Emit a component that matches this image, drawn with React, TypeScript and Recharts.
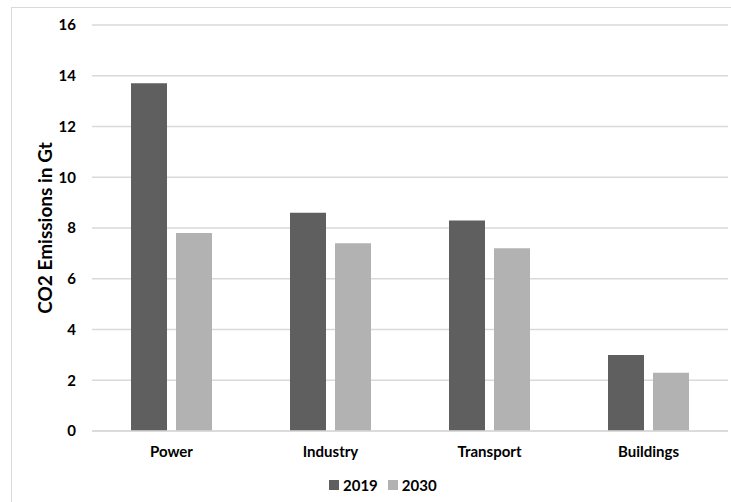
import { BarChart, Bar, XAxis, YAxis, CartesianGrid } from "recharts";

const sectors = ["Power", "Industry", "Transport", "Buildings"];
const emissions2019 = [13.7, 8.6, 8.3, 3.0];
const emissions2030 = [7.8, 7.4, 7.2, 2.3];
const yTicks = [0, 2, 4, 6, 8, 10, 12, 14, 16];

const series = [
  { key: "y2019", name: "2019", color: "#5f5f5f" },
  { key: "y2030", name: "2030", color: "#b2b2b2" },
];

const data = sectors.map((sector, i) => ({
  sector,
  y2019: emissions2019[i],
  y2030: emissions2030[i],
}));

const FONT = "Lato, 'Liberation Sans', Arial, sans-serif";

// legend drawn below the plot, outside the chart's own layout
function LegendRow() {
  return (
    <div
      style={{
        position: "absolute",
        top: 476,
        left: 329,
        display: "flex",
        alignItems: "center",
        fontFamily: FONT,
        fontWeight: 700,
        fontSize: 15,
        color: "#000",
      }}
    >
      {series.map((s) => (
        <div key={s.key} style={{ display: "flex", alignItems: "center", marginRight: 10 }}>
          <span style={{ width: 10, height: 10, background: s.color, display: "inline-block", marginRight: 4 }} />
          <span>{s.name}</span>
        </div>
      ))}
    </div>
  );
}

export default function App() {
  return (
    <div style={{ position: "absolute", left: 0, top: 0, width: 731, height: 502, background: "#fff", overflow: "hidden" }}>
      <div style={{ position: "absolute", left: 11, top: 7, width: 740, height: 520, border: "1px solid #d9d9d9" }} />
      <div style={{ position: "absolute", left: 0, top: 0 }}>
        <BarChart
          width={731}
          height={502}
          data={data}
          margin={{ top: 25, right: 3, left: 0, bottom: 41 }}
          barSize={36}
          barGap={9}
          barCategoryGap={39}
        >
          <CartesianGrid vertical={false} stroke="#d9d9d9" strokeWidth={1.5} />
          <XAxis
            dataKey="sector"
            height={30}
            tickLine={false}
            tickSize={0}
            tickMargin={15}
            axisLine={{ stroke: "#d9d9d9", strokeWidth: 1.5 }}
            tick={{ fontFamily: FONT, fontWeight: 700, fontSize: 15, fill: "#000" }}
          />
          <YAxis
            width={92}
            domain={[0, 16]}
            ticks={yTicks}
            interval={0}
            tickLine={false}
            axisLine={false}
            tickSize={0}
            tickMargin={16}
            tick={{ fontFamily: FONT, fontWeight: 700, fontSize: 15, fill: "#000" }}
            label={{
              value: "CO2 Emissions in Gt",
              angle: -90,
              position: "insideLeft",
              offset: 0,
              dx: 45,
              style: { fontFamily: FONT, fontWeight: 700, fontSize: 19, fill: "#000", textAnchor: "middle" },
            }}
          />
          {series.map((s) => (
            <Bar key={s.key} dataKey={s.key} name={s.name} fill={s.color} isAnimationActive={false} />
          ))}
        </BarChart>
      </div>
      <LegendRow />
    </div>
  );
}
